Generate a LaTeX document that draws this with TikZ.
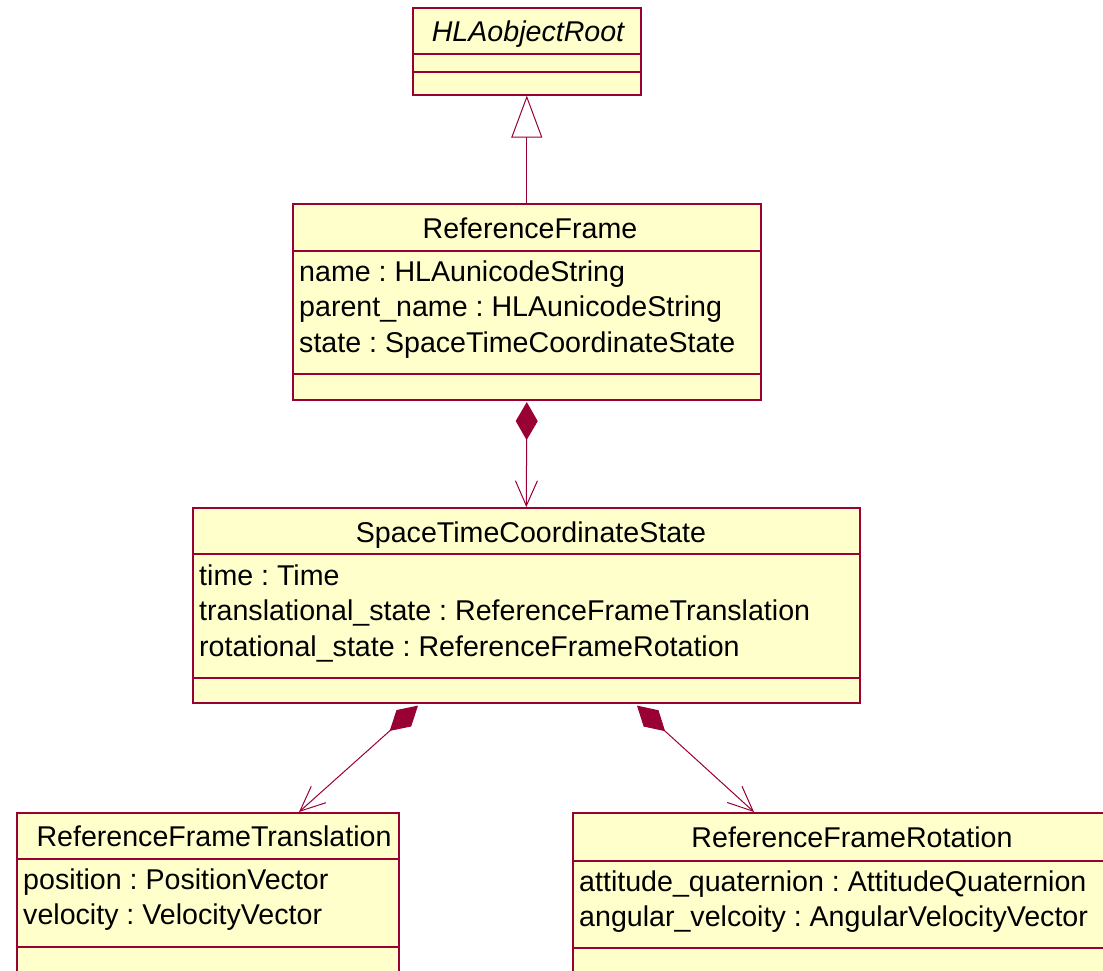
\documentclass[tikz,border=0pt]{standalone}
\usepackage{fontspec}
\setmainfont{Liberation Sans}
\usetikzlibrary{arrows.meta,calc}
\definecolor{umlred}{RGB}{153,0,51}
\definecolor{umlfill}{RGB}{255,255,204}
\frenchspacing
\begin{document}
\begin{tikzpicture}[x=1pt,y=-1pt,
  classbox/.style={draw=umlred,fill=umlfill,line width=1.6pt,rectangle,inner sep=0pt,anchor=north west},
  divider/.style={draw=umlred,line width=1.1pt},
  titletext/.style={anchor=base,inner sep=0pt,font=\fontsize{28.6}{34}\selectfont},
  attrtext/.style={anchor=base west,inner sep=0pt,font=\fontsize{28.6}{34}\selectfont},
  conn/.style={draw=umlred,line width=1pt},
  gen/.style={conn,-{Triangle[open,length=42pt,width=31pt,line width=1pt]}},
  comp/.style={conn,{Diamond[length=38pt,width=22pt,fill=umlred]}-{Straight Barb[length=25pt,width=22pt,line width=1pt]}}
]
\useasboundingbox (0,0) rectangle (1103,971);
\clip (0,0) rectangle (1103,971);

% HLAobjectRoot
\node[classbox,minimum width=228pt,minimum height=87pt] (root) at (412,7) {};
\draw[divider] (412,54) -- (640,54);
\draw[divider] (412,72) -- (640,72);
\node[titletext,font=\fontsize{28.6}{34}\selectfont\itshape] (roott) at (528,42) {HLAobjectRoot};

% ReferenceFrame
\node[classbox,minimum width=468pt,minimum height=196pt] (rf) at (292,203) {};
\draw[divider] (292,251) -- (760,251);
\draw[divider] (292,374) -- (760,374);
\node[titletext] (rft0) at (530,238) {ReferenceFrame};
\node[attrtext] (rfa1) at (299,281) {name : HLAunicodeString};
\node[attrtext] (rfa2) at (299,316.5) {parent\_name : HLAunicodeString};
\node[attrtext] (rfa3) at (299,352) {state : SpaceTimeCoordinateState};

% SpaceTimeCoordinateState
\node[classbox,minimum width=667pt,minimum height=195pt] (stcs) at (192,507) {};
\draw[divider] (192,554) -- (859,554);
\draw[divider] (192,678) -- (859,678);
\node[titletext] (stcst) at (531,542) {SpaceTimeCoordinateState};
\node[attrtext] (stcsa1) at (199,585) {time : Time};
\node[attrtext] (stcsa2) at (199,620.5) {translational\_state : ReferenceFrameTranslation};
\node[attrtext] (stcsa3) at (199,656) {rotational\_state : ReferenceFrameRotation};

% ReferenceFrameTranslation
\node[classbox,minimum width=382pt,minimum height=200pt] (rftr) at (16,812) {};
\draw[divider] (16,859) -- (398,859);
\draw[divider] (16,947) -- (398,947);
\node[titletext] (rftrt) at (214,846) {ReferenceFrameTranslation};
\node[attrtext] (rftra1) at (23,889) {position : PositionVector};
\node[attrtext] (rftra2) at (23,924.5) {velocity : VelocityVector};

% ReferenceFrameRotation
\node[classbox,minimum width=560pt,minimum height=200pt] (rfr) at (572,812) {};
\draw[divider] (572,861) -- (1132,861);
\draw[divider] (572,948) -- (1132,948);
\node[titletext] (rfrt) at (852,847) {ReferenceFrameRotation};
\node[attrtext] (rfra1) at (579,891) {attitude\_quaternion : AttitudeQuaternion};
\node[attrtext] (rfra2) at (579,926.5) {angular\_velcoity : AngularVelocityVector};

% connectors
\draw[gen] (rf.north) -- (root.south);
\draw[comp,shorten <=1.5pt] (rf.south) -- (stcs.north);
\coordinate (s1) at ($(stcs.south west)+(226,2)$);
\coordinate (s2) at ($(stcs.south west)+(445,2)$);
\coordinate (t1) at ($(rftr.north west)+(283,0)$);
\coordinate (t2) at ($(rfr.north west)+(182,0)$);
\draw[comp] (s1) -- (t1);
\draw[comp] (s2) -- (t2);
\end{tikzpicture}
\end{document}
